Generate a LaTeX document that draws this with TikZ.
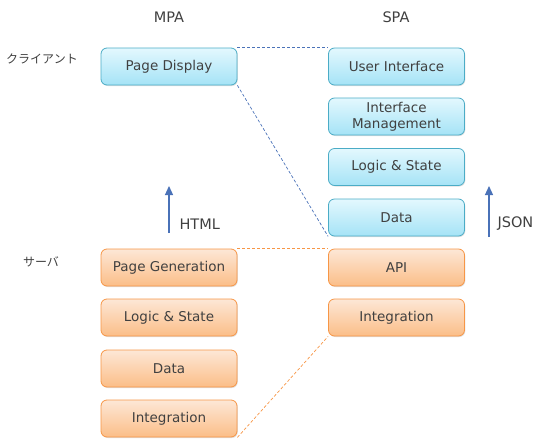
\documentclass[tikz,border=0pt]{standalone}
\usepackage{fontspec}
\setmainfont{DejaVu Sans}
\newfontfamily\jpfont{Noto Sans CJK JP}
\usetikzlibrary{shadows,arrows.meta}
\definecolor{txt}{HTML}{404040}
\definecolor{bltop}{HTML}{E3F8FE}
\definecolor{blbot}{HTML}{A5E3F6}
\definecolor{bledge}{HTML}{4BACC6}
\definecolor{ortop}{HTML}{FDE7D6}
\definecolor{orbot}{HTML}{FBBE88}
\definecolor{oredge}{HTML}{F79646}
\definecolor{bline}{HTML}{4A72B8}
\begin{document}
\begin{tikzpicture}[x=1pt,y=-1pt,
  box/.style={minimum width=136pt,minimum height=37pt,rounded corners=6pt,
    text=txt,font=\fontsize{13.5}{16}\selectfont,align=center,inner sep=1pt,
    drop shadow={shadow xshift=0.8pt,shadow yshift=-1pt,opacity=0.25}},
  bbox/.style={box,draw=bledge,top color=bltop,bottom color=blbot,line width=0.8pt},
  obox/.style={box,draw=oredge,top color=ortop,bottom color=orbot,line width=0.8pt},
  lbl/.style={text=txt,font=\fontsize{14.5}{16}\selectfont},
  jlbl/.style={text=txt,font=\jpfont\fontsize{12}{14}\selectfont},
  bdash/.style={draw=bline,dashed,dash pattern=on 3pt off 2pt,line width=0.7pt},
  odash/.style={draw=oredge,dashed,dash pattern=on 3pt off 2pt,line width=0.7pt},
  uparrow/.style={draw=bline,line width=1.2pt,-{Triangle[length=9pt,width=8pt]}}
]
\useasboundingbox (0,0) rectangle (547,445);
\node[lbl] (mpa) at (169,17) {MPA};
\node[lbl] (spa) at (396,17) {SPA};
\node[jlbl] (client) at (42,59) {クライアント};
\node[jlbl] (server) at (41,262) {サーバ};

\node[bbox] (pd) at (169,66.5) {Page Display};
\node[obox] (pg) at (169,267.5) {Page Generation};
\node[obox] (mls) at (169,317.5) {Logic \& State};
\node[obox] (md) at (169,368.5) {Data};
\node[obox] (mi) at (169,418.5) {Integration};

\node[bbox] (ui) at (396.5,66.5) {User Interface};
\node[bbox] (im) at (396.5,116.5) {Interface\\Management};
\node[bbox] (sls) at (396.5,167) {Logic \& State};
\node[bbox] (sd) at (396.5,217.5) {Data};
\node[obox] (api) at (396.5,267.5) {API};
\node[obox] (si) at (396.5,317.5) {Integration};

\draw[bdash] (pd.north east) -- (ui.north west);
\draw[bdash] (pd.south east) -- (sd.south west);
\draw[odash] (pg.north east) -- (api.north west);
\draw[odash] (mi.south east) -- (si.south west);

\coordinate (h0) at (169,233);
\coordinate (h1) at (169,186);
\draw[uparrow] (h0) -- (h1);
\node[lbl,anchor=west] (html) at (176,224) {HTML};
\coordinate (j0) at (489,237);
\coordinate (j1) at (489,186);
\draw[uparrow] (j0) -- (j1);
\node[lbl,anchor=west] (json) at (494,224) {JSON};
\end{tikzpicture}
\end{document}
